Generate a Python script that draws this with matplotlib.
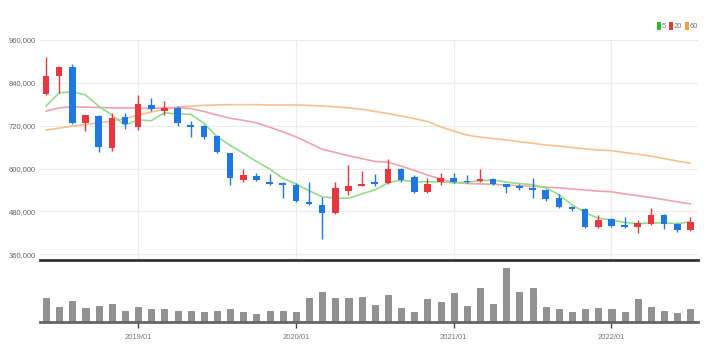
import numpy as np
import pandas as pd
import matplotlib
matplotlib.use('Agg')
import matplotlib.pyplot as plt
from matplotlib.patches import Rectangle

plt.rcParams['font.family'] = ['Liberation Sans', 'DejaVu Sans']

# monthly candles, 2018/06 .. 2022/07
months = list(pd.period_range('2018-06', periods=50, freq='M').strftime('%Y/%m'))

open_ = [809, 859, 884, 728, 747, 657, 745, 717, 778, 762, 769, 722, 720, 692, 643, 568, 580, 563, 560, 554,
         507, 498, 477, 538, 552, 563, 560, 600, 577, 535, 563, 575, 566, 564, 570, 556, 552, 547, 541, 519,
         493, 487, 437, 458, 442, 436, 445, 470, 445, 428]
close = [859, 884, 728, 749, 661, 741, 725, 781, 766, 771, 727, 716, 688, 647, 573, 582, 567, 557, 554, 509,
         500, 477, 547, 551, 558, 556, 600, 568, 535, 556, 575, 563, 562, 570, 557, 548, 545, 539, 516, 493,
         486, 437, 456, 440, 436, 448, 470, 445, 427, 451]
high = [913, 886, 893, 751, 749, 755, 757, 806, 798, 790, 775, 734, 722, 694, 645, 599, 587, 585, 562, 559,
        563, 521, 563, 610, 594, 585, 627, 603, 582, 575, 588, 588, 582, 600, 575, 558, 558, 575, 543, 529,
        496, 489, 470, 463, 465, 456, 489, 472, 447, 465]
low = [805, 812, 725, 706, 647, 649, 710, 708, 762, 750, 719, 689, 683, 643, 554, 563, 564, 555, 517, 507,
       498, 403, 473, 527, 551, 552, 557, 563, 533, 533, 554, 560, 560, 563, 555, 531, 540, 519, 510, 490,
       480, 435, 435, 437, 434, 419, 443, 430, 423, 426]

ma5 = [775, 812, 815, 806, 775, 750, 722, 736, 734, 756, 753, 752, 727, 689, 665, 643, 620, 599, 573, 557,
       538, 521, 517, 517, 529, 540, 560, 568, 563, 563, 563, 560, 562, 566, 568, 562, 558, 555, 546, 527,
       499, 476, 461, 456, 449, 446, 448, 448, 446, 451]
ma20 = [761, 770, 773, 772, 771, 770, 770, 769, 768, 770, 771, 768, 760, 750, 741, 735, 728, 716, 703, 689,
        672, 654, 645, 636, 628, 620, 618, 607, 595, 582, 571, 561, 558, 557, 556, 554, 552, 550, 548, 546,
        543, 540, 537, 535, 529, 524, 519, 513, 507, 501]
ma60 = [708, 713, 719, 723, 728, 733, 740, 750, 758, 766, 772, 775, 777, 778, 779, 779, 779, 778, 778, 778,
        777, 775, 773, 770, 766, 760, 754, 747, 740, 732, 717, 705, 694, 688, 684, 680, 675, 671, 666, 663,
        659, 655, 652, 650, 645, 640, 635, 628, 621, 615]

volume = [70, 43, 62, 42, 47, 52, 33, 43, 37, 37, 33, 33, 28, 33, 37, 28, 22, 33, 33, 30,
          72, 90, 72, 72, 75, 50, 80, 42, 28, 67, 60, 87, 47, 102, 52, 160, 90, 102, 45, 37,
          30, 37, 42, 37, 28, 67, 45, 33, 25, 37]

price_ticks = [360, 480, 600, 720, 840, 960]

legend_labels = ['5', '20', '60']
legend_colors = ['#2bbb2b', '#e53935', '#f5a03a']

RED = '#e8383d'
BLUE = '#1f78e0'

W, H = 713, 362
fig = plt.figure(figsize=(W / 100, H / 100), dpi=100)

def px_axes(x0, y0, x1, y1):
    return fig.add_axes([x0 / W, 1 - y1 / H, (x1 - x0) / W, (y1 - y0) / H])

ax = px_axes(40, 40, 698, 260)
axv = px_axes(40, 262, 698, 321.7)

x = np.arange(len(months))
o = np.array(open_) * 1000
c = np.array(close) * 1000
hi = np.array(high) * 1000
lo = np.array(low) * 1000
up = c >= o
colors = np.where(up, RED, BLUE)

ax.vlines(x, lo, hi, colors=colors, linewidth=1.0, zorder=3)
ax.bar(x, np.abs(c - o), bottom=np.minimum(o, c), width=0.5, color=colors, zorder=4)

ax.plot(x, np.array(ma60) * 1000, color='#f7c08e', linewidth=1.2, zorder=2)
ax.plot(x, np.array(ma20) * 1000, color='#f3a2aa', linewidth=1.2, zorder=2)
ax.plot(x, np.array(ma5) * 1000, color='#92dc8c', linewidth=1.2, zorder=2)

jan = [i for i, m in enumerate(months) if m.endswith('/01')]

ax.set_xlim(-0.46, 49.58)
ax.set_ylim(344000, 960000)
ax.set_yticks([t * 1000 for t in price_ticks])
ax.set_yticklabels(['{:,}'.format(t * 1000) for t in price_ticks])
ax.set_xticks(jan)
ax.tick_params(axis='x', length=0, labelbottom=False)
ax.tick_params(axis='y', length=0, labelsize=5.5, labelcolor='#666666', pad=3)
ax.grid(True, color='#ececec', linewidth=0.8)
ax.set_axisbelow(True)
for s in ['top', 'right', 'left']:
    ax.spines[s].set_visible(False)
ax.spines['bottom'].set_color('#333333')
ax.spines['bottom'].set_linewidth(2)

axv.bar(x, volume, width=0.46, color='#929292', edgecolor='#7a7a7a', linewidth=0.5)
axv.set_xlim(-0.46, 49.58)
axv.set_ylim(0, 179)
axv.set_yticks([])
axv.set_xticks(jan)
axv.set_xticklabels([months[i] for i in jan])
axv.tick_params(axis='x', length=4, width=1, color='#444444', labelsize=5.5, labelcolor='#777777', pad=5)
for s in ['top', 'right', 'left']:
    axv.spines[s].set_visible(False)
axv.spines['bottom'].set_color('#666666')
axv.spines['bottom'].set_linewidth(2)

# legend in the top right corner
lx = [657, 669, 685]
for px, label, col in zip(lx, legend_labels, legend_colors):
    fig.add_artist(Rectangle((px / W, 1 - 30 / H), 3.5 / W, 8 / H, transform=fig.transFigure,
                             color=col, linewidth=0))
    fig.text((px + 4.5) / W, 1 - 26 / H, label, color='#777777', fontsize=5.5, va='center', ha='left')

fig.savefig('out.png', dpi=100)
